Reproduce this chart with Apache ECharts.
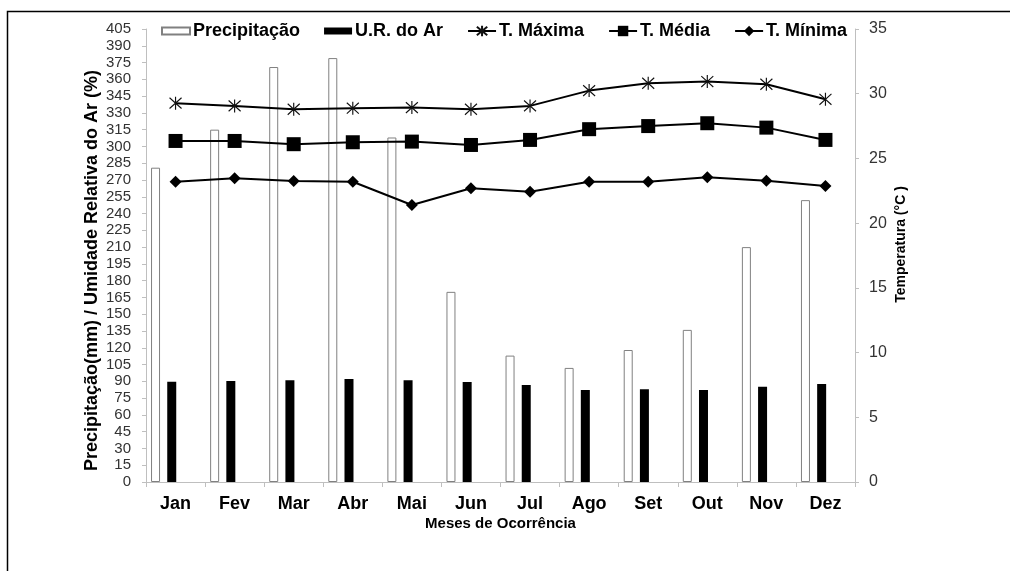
<!DOCTYPE html>
<html>
<head>
<meta charset="utf-8">
<script src="https://cdn.jsdelivr.net/npm/echarts@6/dist/echarts.min.js"></script>
<style>
html,body{margin:0;padding:0;background:#fff;}
#chart{width:1010px;height:571px;}
</style>
</head>
<body>
<div id="chart"></div>
<script>
const months = ['Jan','Fev','Mar','Abr','Mai','Jun','Jul','Ago','Set','Out','Nov','Dez'];
const precipitacao = [281, 315, 371, 379, 308, 170, 113, 102, 118, 136, 210, 252];
const umidade = [89.7, 90.3, 90.9, 92, 91, 89.4, 86.7, 82.3, 82.9, 82.3, 85.2, 87.6];
const tMaxima = [29.27, 29.06, 28.8, 28.88, 28.93, 28.8, 29.06, 30.24, 30.81, 30.94, 30.73, 29.57];
const tMedia = [26.35, 26.35, 26.1, 26.25, 26.3, 26.04, 26.43, 27.26, 27.5, 27.72, 27.38, 26.43];
const tMinima = [23.2, 23.47, 23.26, 23.2, 21.4, 22.7, 22.43, 23.2, 23.2, 23.55, 23.28, 22.87];

const FONT = "'Liberation Sans', Arial, sans-serif";
const starPath = 'path://M1,1L11,11M11,1L1,11M6,0L6,12';
const barIcon = 'path://M0,0M0,3L28,3L28,10L0,10ZM28,13';

const chart = echarts.init(document.getElementById('chart'), null, {renderer: 'canvas'});
chart.setOption({
  animation: false,
  textStyle: {fontFamily: FONT},
  graphic: [{
    type: 'rect', silent: true,
    shape: {x: 7.5, y: 11.5, width: 1100, height: 700},
    style: {fill: 'none', stroke: '#000', lineWidth: 1.5}
  }],
  legend: {
    left: 156, top: 17,
    itemWidth: 28, itemHeight: 13, itemGap: 24,
    textStyle: {fontFamily: FONT, fontSize: 18, fontWeight: 'bold', color: '#000', padding: [0,0,0,-2]},
    data: [
      {name: 'Precipitação', icon: barIcon},
      {name: 'U.R. do Ar', icon: barIcon},
      {name: 'T. Máxima'},
      {name: 'T. Média'},
      {name: 'T. Mínima'}
    ]
  },
  grid: {left: 146, right: 155, top: 29, bottom: 89, containLabel: false},
  xAxis: {
    type: 'category', data: months,
    name: 'Meses de Ocorrência', nameLocation: 'middle', nameGap: 34, nameMoveOverlap: false,
    nameTextStyle: {fontFamily: FONT, fontSize: 15, fontWeight: 'bold', color: '#000'},
    axisLine: {lineStyle: {color: '#bfbfbf', width: 1}},
    axisTick: {show: true, length: 5, lineStyle: {color: '#bfbfbf'}},
    axisLabel: {fontFamily: FONT, fontSize: 18, fontWeight: 'bold', color: '#000', margin: 13, interval: 0},
    splitLine: {show: false}
  },
  yAxis: [{
    type: 'value', min: 0, max: 405, interval: 15, position: 'left',
    name: 'Precipitação(mm) / Umidade Relativa do Ar (%)', nameLocation: 'middle', nameGap: 45, nameRotate: 90,
    nameMoveOverlap: false,
    nameTextStyle: {fontFamily: FONT, fontSize: 18, fontWeight: 'bold', color: '#000', padding: [0, 30, 0, 0]},
    axisLine: {show: true, lineStyle: {color: '#bfbfbf', width: 1}},
    axisTick: {show: true, length: 4, lineStyle: {color: '#bfbfbf'}},
    axisLabel: {fontFamily: FONT, fontSize: 15, color: '#333', margin: 15},
    splitLine: {show: false}
  }, {
    type: 'value', min: 0, max: 35, interval: 5, position: 'right',
    name: 'Temperatura (°C )', nameLocation: 'middle', nameGap: 39, nameRotate: 90,
    nameMoveOverlap: false,
    nameTextStyle: {fontFamily: FONT, fontSize: 14, fontWeight: 'bold', color: '#000', padding: [0, 0, 0, 22]},
    axisLine: {show: true, lineStyle: {color: '#bfbfbf', width: 1}},
    axisTick: {show: true, length: 4, lineStyle: {color: '#bfbfbf'}},
    axisLabel: {fontFamily: FONT, fontSize: 16, color: '#333', margin: 14},
    splitLine: {show: false}
  }],
  series: [
    {
      name: 'Precipitação', type: 'bar', yAxisIndex: 0, data: precipitacao,
      barWidth: 9, barGap: '80%',
      itemStyle: {color: '#ffffff', borderColor: '#808080', borderWidth: 1}
    },
    {
      name: 'U.R. do Ar', type: 'bar', yAxisIndex: 0, data: umidade,
      barWidth: 9, barGap: '80%',
      itemStyle: {color: '#000000'}
    },
    {
      name: 'spacer', type: 'bar', yAxisIndex: 0, data: [],
      barWidth: 16.6, barGap: '80%', silent: true
    },
    {
      name: 'T. Máxima', type: 'line', yAxisIndex: 1, data: tMaxima,
      symbol: starPath, symbolSize: [12, 13],
      lineStyle: {color: '#000', width: 2},
      itemStyle: {color: '#000', borderColor: '#111', borderWidth: 1.2}
    },
    {
      name: 'T. Média', type: 'line', yAxisIndex: 1, data: tMedia,
      symbol: 'rect', symbolSize: 14,
      lineStyle: {color: '#000', width: 2},
      itemStyle: {color: '#000'}
    },
    {
      name: 'T. Mínima', type: 'line', yAxisIndex: 1, data: tMinima,
      symbol: 'diamond', symbolSize: [12, 12],
      lineStyle: {color: '#000', width: 2},
      itemStyle: {color: '#000'}
    }
  ]
});
</script>
</body>
</html>
